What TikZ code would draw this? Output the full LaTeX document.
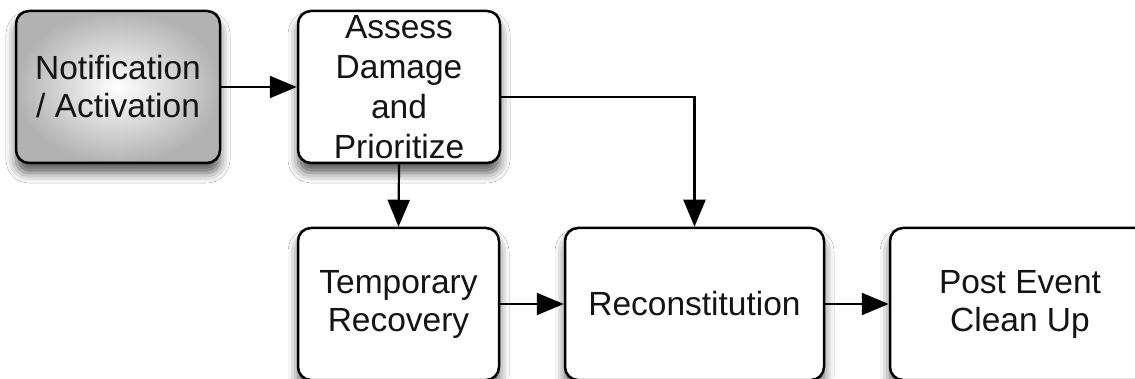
\documentclass[tikz,border=0pt]{standalone}
\usepackage{fontspec}
\setmainfont{Liberation Sans}
\usetikzlibrary{arrows.meta,shadows.blur}
\tikzset{
  box/.style={draw=black, line width=2.5pt, rounded corners=13pt, fill=white,
    minimum height=152pt, align=center, inner sep=0pt, text=black!92,
    blur shadow={shadow xshift=0pt, shadow yshift=-10pt, shadow blur radius=10pt, shadow opacity=65},
    font=\fontsize{33.5}{38}\selectfont},
  grad/.style={inner color=white, outer color=black!30},
  arr/.style={line width=2.2pt, -{Triangle[length=27pt,width=22pt]}}
}
\begin{document}
\begin{tikzpicture}[x=1pt,y=-1pt]
\clip (0,0) rectangle (1135,379);
\fill[white] (0,0) rectangle (1135,379);
\node[box, grad, minimum width=204pt] (b1) at (118,87) {Notification\\/ Activation};
\node[box, minimum width=202pt, font=\fontsize{33.5}{40}\selectfont] (b2) at (399,87) {Assess\\Damage\\and\\Prioritize};
\node[box, minimum width=201pt] (b3) at (398.5,304) {Temporary\\Recovery};
\node[box, minimum width=259pt] (b4) at (694.5,304) {Reconstitution};
\node[box, minimum width=260pt] (b5) at (1020,304) {Post Event\\Clean Up};
\draw[arr] (b1.east) -- (b2.west);
\draw[arr] (b2.south) -- (b3.north);
\draw[arr] ([yshift=-10pt]b2.east) -| (b4.north);
\draw[arr] (b3.east) -- (b4.west);
\draw[arr] (b4.east) -- (b5.west);
\end{tikzpicture}
\end{document}
